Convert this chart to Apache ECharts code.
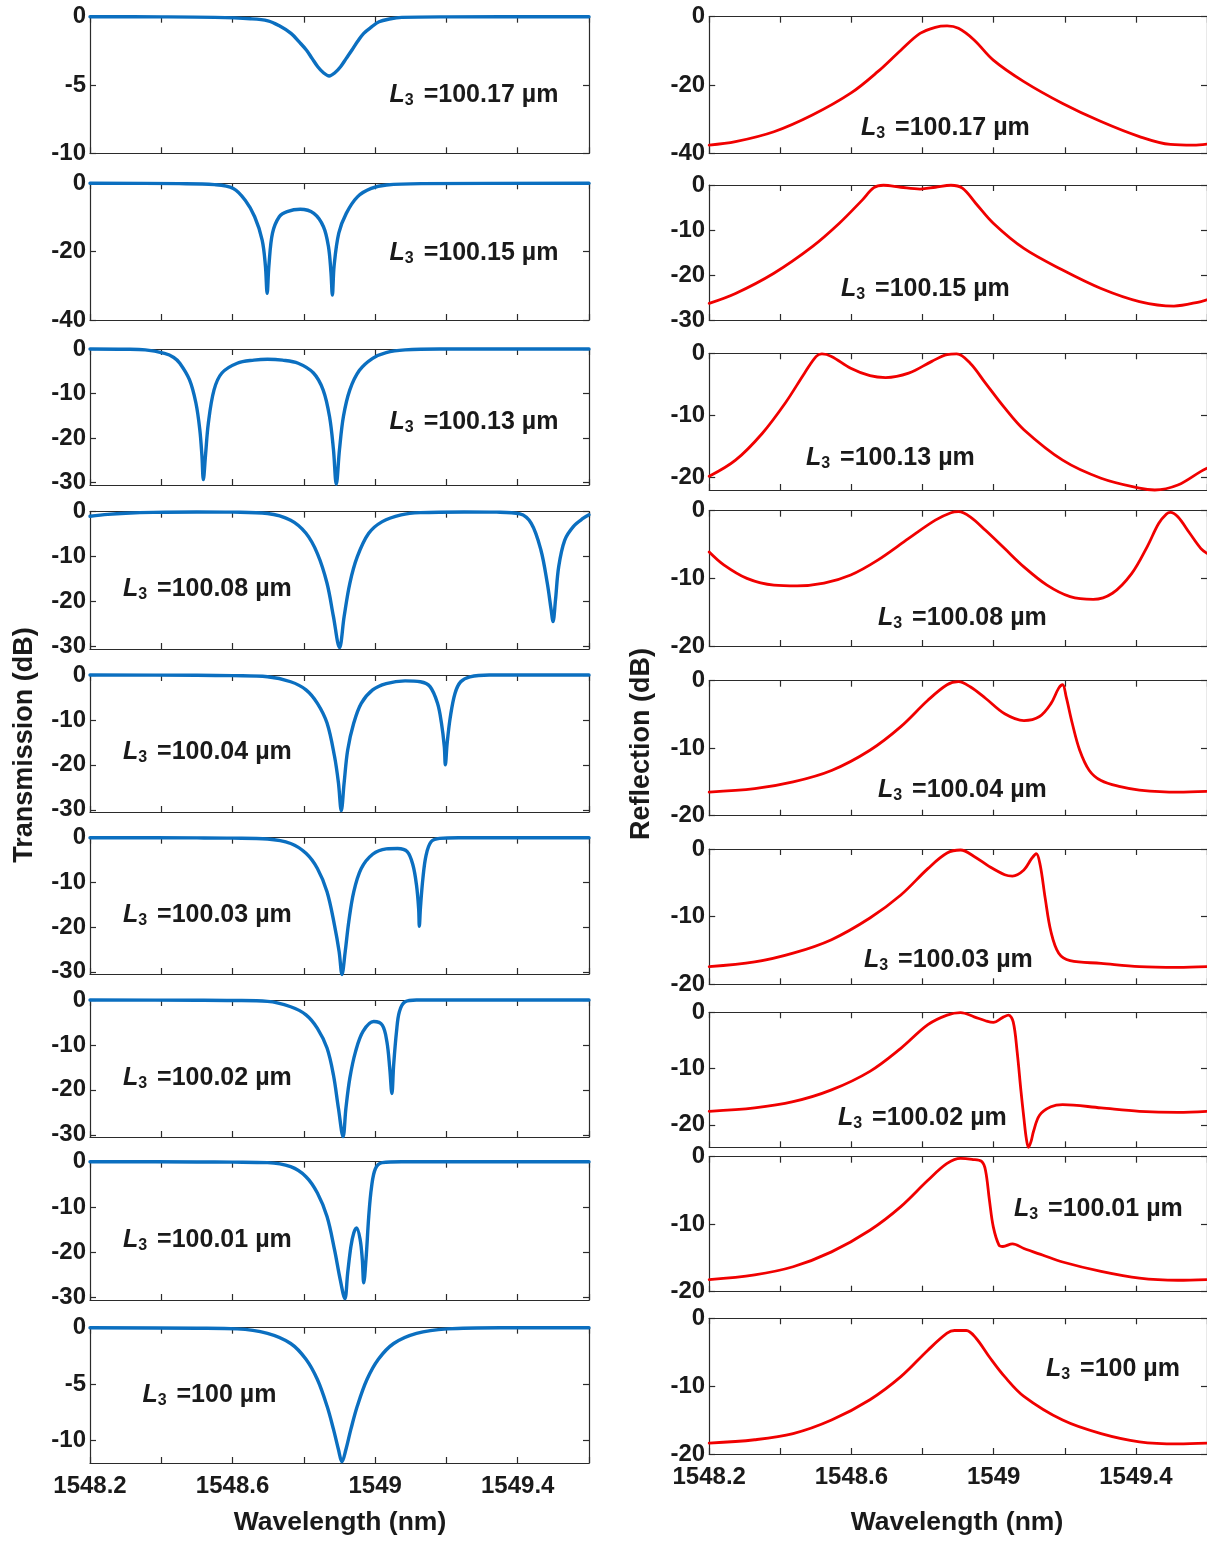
<!DOCTYPE html>
<html><head><meta charset="utf-8">
<script src="https://cdn.jsdelivr.net/npm/echarts@6/dist/echarts.min.js"></script>
<style>html,body{margin:0;padding:0;background:#fff;}#c{width:1207px;height:1543px;}</style>
</head><body><div id="c"></div>
<script>
// ---------------- data ----------------
const wavelengthTicks = [1548.2, 1548.4, 1548.6, 1548.8, 1549.0, 1549.2, 1549.4, 1549.6];
const wavelengthLabels = [1548.2, 1548.6, 1549.0, 1549.4];
const lengthLabels = ['100.17', '100.15', '100.13', '100.08', '100.04', '100.03', '100.02', '100.01', '100'];

const transmissionTicks = [[0,-5,-10],[0,-20,-40],[0,-10,-20,-30],[0,-10,-20,-30],[0,-10,-20,-30],[0,-10,-20,-30],[0,-10,-20,-30],[0,-10,-20,-30],[0,-5,-10]];
const transmissionMin = [-10, -40, -30.6, -30.5, -30.5, -30.5, -30.5, -30.5, -12];
const reflectionTicks = [[0,-20,-40],[0,-10,-20,-30],[0,-10,-20],[0,-10,-20],[0,-10,-20],[0,-10,-20],[0,-10,-20],[0,-10,-20],[0,-10,-20]];
const reflectionMin = [-40, -30, -22, -20, -20, -20, -24, -20, -20];

// Transmission (dB) vs wavelength (nm)
const T_100_17 = [[1548.2,0],[1548.4,-0.01],[1548.55,-0.05],[1548.65,-0.15],[1548.699,-0.3],[1548.73,-0.65],[1548.764,-1.22],[1548.787,-1.85],[1548.807,-2.44],[1548.823,-3.05],[1548.839,-3.66],[1548.855,-4.1],[1548.871,-4.34],[1548.887,-4.1],[1548.903,-3.66],[1548.919,-3.05],[1548.935,-2.44],[1548.951,-1.8],[1548.968,-1.22],[1548.99,-0.75],[1549.011,-0.37],[1549.04,-0.17],[1549.075,-0.05],[1549.2,-0.01],[1549.6,0]];
const T_100_15 = [[1548.2,0],[1548.45,-0.1],[1548.549,-0.4],[1548.602,-1.5],[1548.635,-4.9],[1548.662,-9.8],[1548.683,-16.6],[1548.692,-24],[1548.697,-32.2],[1548.702,-24],[1548.712,-14.6],[1548.731,-9.8],[1548.753,-8.3],[1548.79,-7.6],[1548.828,-8.8],[1548.855,-12.7],[1548.869,-18.5],[1548.876,-26],[1548.88,-32.7],[1548.885,-24],[1548.898,-14.6],[1548.919,-8.8],[1548.951,-3.9],[1548.989,-1.5],[1549.032,-0.5],[1549.129,-0.1],[1549.6,0]];
const T_100_13 = [[1548.2,0],[1548.3,-0.05],[1548.355,-0.2],[1548.409,-1.0],[1548.435,-1.9],[1548.452,-3.2],[1548.479,-6.9],[1548.497,-12.1],[1548.508,-18.1],[1548.514,-24],[1548.518,-29.4],[1548.524,-24],[1548.532,-16.7],[1548.548,-9.2],[1548.57,-5.4],[1548.613,-3.2],[1548.66,-2.5],[1548.698,-2.3],[1548.74,-2.5],[1548.784,-3.2],[1548.827,-5.4],[1548.854,-9.2],[1548.872,-15.2],[1548.883,-22.6],[1548.891,-30.4],[1548.9,-22.6],[1548.911,-15.2],[1548.929,-9.2],[1548.956,-4.8],[1548.993,-2.1],[1549.031,-0.8],[1549.084,-0.2],[1549.181,0],[1549.6,0]];
const T_100_08 = [[1548.2,-1.0],[1548.25,-0.6],[1548.3,-0.35],[1548.377,-0.15],[1548.5,-0.05],[1548.6,-0.1],[1548.698,-0.4],[1548.763,-1.9],[1548.806,-4.8],[1548.838,-9.3],[1548.865,-15.9],[1548.883,-23.3],[1548.9,-30.2],[1548.913,-23.3],[1548.929,-15.9],[1548.95,-10],[1548.982,-4.8],[1549.02,-2.2],[1549.073,-0.7],[1549.127,-0.2],[1549.25,-0.05],[1549.341,-0.1],[1549.406,-0.5],[1549.438,-2.6],[1549.465,-8.5],[1549.483,-15.9],[1549.494,-21.9],[1549.499,-24.4],[1549.506,-19.6],[1549.515,-12.2],[1549.532,-6.3],[1549.556,-3.3],[1549.583,-1.5],[1549.6,-0.7]];
const T_100_04 = [[1548.2,0],[1548.5,-0.05],[1548.6,-0.15],[1548.698,-0.4],[1548.763,-1.5],[1548.806,-3.3],[1548.838,-6.3],[1548.865,-10.7],[1548.886,-18.1],[1548.897,-24],[1548.905,-30.2],[1548.913,-24],[1548.923,-16.7],[1548.94,-10.7],[1548.961,-6.3],[1548.993,-3.3],[1549.031,-1.9],[1549.084,-1.3],[1549.127,-1.5],[1549.154,-2.6],[1549.175,-6.3],[1549.186,-10.7],[1549.194,-15.9],[1549.197,-20],[1549.202,-15.2],[1549.211,-9.3],[1549.224,-4.1],[1549.24,-1.5],[1549.266,-0.4],[1549.32,0],[1549.6,0]];
const T_100_03 = [[1548.2,0],[1548.5,-0.05],[1548.6,-0.1],[1548.698,-0.3],[1548.763,-1.3],[1548.806,-3.5],[1548.838,-6.9],[1548.865,-12.1],[1548.886,-19.6],[1548.899,-25.5],[1548.907,-30.6],[1548.916,-25.5],[1548.926,-18.8],[1548.94,-12.1],[1548.961,-6.9],[1548.993,-3.7],[1549.031,-2.5],[1549.063,-2.4],[1549.09,-3.1],[1549.106,-6.1],[1549.116,-10.6],[1549.122,-15.8],[1549.124,-19.8],[1549.127,-15.8],[1549.134,-9.1],[1549.143,-3.9],[1549.157,-0.9],[1549.181,-0.15],[1549.234,0],[1549.6,0]];
const T_100_02 = [[1548.2,0],[1548.5,-0.05],[1548.6,-0.1],[1548.698,-0.3],[1548.763,-1.5],[1548.806,-3.3],[1548.838,-6.3],[1548.865,-10.7],[1548.883,-16.7],[1548.897,-24.1],[1548.91,-30.4],[1548.918,-24.1],[1548.929,-17.4],[1548.945,-11.5],[1548.966,-7.0],[1548.996,-4.8],[1549.02,-5.6],[1549.033,-9.3],[1549.041,-15.2],[1549.047,-20.8],[1549.052,-14.4],[1549.06,-7.0],[1549.068,-2.6],[1549.084,-0.4],[1549.116,0],[1549.6,0]];
const T_100_01 = [[1548.2,0],[1548.5,-0.05],[1548.6,-0.1],[1548.698,-0.2],[1548.763,-1.1],[1548.806,-3.3],[1548.838,-6.9],[1548.865,-12.1],[1548.886,-19.4],[1548.902,-26],[1548.915,-30.2],[1548.923,-24.5],[1548.932,-18.7],[1548.94,-15.7],[1548.948,-14.6],[1548.958,-17.2],[1548.964,-21.6],[1548.968,-26.7],[1548.975,-20.8],[1548.982,-12.1],[1548.99,-5.5],[1549.001,-1.5],[1549.02,-0.2],[1549.074,0],[1549.6,0]];
const T_100_00 = [[1548.2,0],[1548.5,-0.05],[1548.613,-0.1],[1548.698,-0.5],[1548.763,-1.4],[1548.806,-2.8],[1548.838,-4.6],[1548.865,-6.95],[1548.883,-9.0],[1548.897,-10.8],[1548.907,-11.9],[1548.918,-10.8],[1548.932,-9.0],[1548.95,-6.95],[1548.977,-4.6],[1549.009,-2.8],[1549.052,-1.4],[1549.116,-0.5],[1549.202,-0.1],[1549.35,0],[1549.6,0]];

// Reflection (dB) vs wavelength (nm)
const R_100_17 = [[1548.2,-37.6],[1548.274,-36.6],[1548.382,-33.7],[1548.49,-28.8],[1548.598,-22.4],[1548.674,-16.1],[1548.739,-9.8],[1548.793,-4.9],[1548.836,-3.1],[1548.869,-2.7],[1548.901,-3.4],[1548.945,-6.8],[1548.999,-12.7],[1549.085,-19.0],[1549.194,-25.4],[1549.302,-30.7],[1549.41,-35.1],[1549.497,-37.4],[1549.562,-37.6],[1549.6,-37.3]];
const R_100_15 = [[1548.2,-26.3],[1548.274,-24.1],[1548.382,-19.6],[1548.49,-13.7],[1548.566,-8.5],[1548.631,-3.3],[1548.663,-0.6],[1548.69,-0.05],[1548.739,-0.5],[1548.793,-0.9],[1548.836,-0.5],[1548.88,-0.05],[1548.912,-0.7],[1548.95,-4.1],[1548.999,-8.5],[1549.085,-14.1],[1549.194,-18.9],[1549.302,-23.0],[1549.41,-25.9],[1549.507,-26.9],[1549.583,-25.9],[1549.6,-25.5]];
const R_100_13 = [[1548.2,-19.8],[1548.274,-17.2],[1548.349,-12.9],[1548.414,-8.0],[1548.468,-3.2],[1548.501,-0.5],[1548.517,-0.1],[1548.544,-0.5],[1548.598,-2.4],[1548.652,-3.6],[1548.696,-3.9],[1548.761,-3.2],[1548.826,-1.3],[1548.869,-0.2],[1548.896,-0.1],[1548.934,-1.6],[1548.977,-4.8],[1549.031,-8.8],[1549.085,-12.3],[1549.194,-17.2],[1549.302,-20.1],[1549.41,-21.7],[1549.453,-22.0],[1549.518,-21.2],[1549.583,-19.0],[1549.6,-18.5]];
const R_100_08 = [[1548.2,-6.1],[1548.241,-8.0],[1548.306,-10.0],[1548.382,-11.0],[1548.447,-11.1],[1548.523,-10.7],[1548.598,-9.5],[1548.674,-7.3],[1548.761,-4.1],[1548.836,-1.4],[1548.88,-0.3],[1548.901,-0.15],[1548.934,-0.9],[1548.977,-2.9],[1549.031,-5.6],[1549.085,-8.3],[1549.15,-11.0],[1549.215,-12.7],[1549.28,-13.1],[1549.334,-12.2],[1549.388,-9.3],[1549.432,-5.3],[1549.464,-1.9],[1549.486,-0.5],[1549.497,-0.25],[1549.518,-0.9],[1549.551,-3.3],[1549.583,-5.6],[1549.6,-6.3]];
const R_100_04 = [[1548.2,-16.5],[1548.328,-16.0],[1548.436,-15.0],[1548.544,-13.3],[1548.652,-10.3],[1548.739,-6.8],[1548.815,-2.9],[1548.869,-0.6],[1548.901,-0.15],[1548.934,-0.9],[1548.977,-2.6],[1549.031,-4.9],[1549.085,-5.9],[1549.129,-5.3],[1549.161,-3.4],[1549.183,-1.1],[1549.194,-0.6],[1549.204,-2.4],[1549.221,-6.3],[1549.242,-10.3],[1549.269,-13.3],[1549.302,-14.8],[1549.356,-15.7],[1549.41,-16.2],[1549.518,-16.5],[1549.6,-16.4]];
const R_100_03 = [[1548.2,-17.4],[1548.328,-16.7],[1548.436,-15.4],[1548.544,-13.4],[1548.652,-10.2],[1548.739,-6.8],[1548.815,-2.9],[1548.869,-0.6],[1548.907,-0.15],[1548.945,-1.1],[1548.988,-2.6],[1549.031,-3.8],[1549.053,-4.0],[1549.085,-3.1],[1549.107,-1.4],[1549.12,-0.7],[1549.131,-2.4],[1549.145,-7.3],[1549.161,-12.2],[1549.183,-15.4],[1549.215,-16.5],[1549.302,-16.9],[1549.41,-17.4],[1549.518,-17.5],[1549.6,-17.4]];
const R_100_02 = [[1548.2,-17.6],[1548.328,-17.0],[1548.436,-15.9],[1548.544,-13.8],[1548.652,-10.5],[1548.739,-6.4],[1548.815,-2.2],[1548.869,-0.5],[1548.907,-0.05],[1548.945,-0.8],[1548.977,-1.5],[1548.999,-1.8],[1549.026,-0.9],[1549.042,-0.5],[1549.055,-1.7],[1549.066,-7.0],[1549.077,-14.1],[1549.085,-18.8],[1549.092,-22.5],[1549.098,-24],[1549.105,-23],[1549.112,-21.2],[1549.129,-18.3],[1549.161,-16.8],[1549.194,-16.4],[1549.302,-17.0],[1549.41,-17.6],[1549.518,-17.8],[1549.6,-17.6]];
const R_100_01 = [[1548.2,-18.2],[1548.328,-17.5],[1548.436,-16.3],[1548.544,-14.1],[1548.652,-10.9],[1548.739,-7.4],[1548.815,-3.5],[1548.869,-1.0],[1548.907,-0.25],[1548.939,-0.4],[1548.966,-0.7],[1548.977,-2.0],[1548.988,-6.4],[1548.999,-10.4],[1549.015,-13.1],[1549.026,-13.3],[1549.053,-12.9],[1549.085,-13.6],[1549.139,-14.6],[1549.194,-15.6],[1549.302,-17.0],[1549.41,-18.0],[1549.518,-18.3],[1549.6,-18.2]];
const R_100_00 = [[1548.2,-18.4],[1548.328,-17.9],[1548.436,-17.0],[1548.544,-15.0],[1548.652,-12.0],[1548.739,-8.6],[1548.815,-4.7],[1548.869,-2.2],[1548.89,-1.8],[1548.923,-1.8],[1548.95,-2.9],[1548.988,-5.7],[1549.031,-8.6],[1549.085,-11.5],[1549.194,-15.0],[1549.302,-17.0],[1549.41,-18.2],[1549.518,-18.5],[1549.6,-18.4]];

const transmission = [T_100_17, T_100_15, T_100_13, T_100_08, T_100_04, T_100_03, T_100_02, T_100_01, T_100_00];
const reflection = [R_100_17, R_100_15, R_100_13, R_100_08, R_100_04, R_100_03, R_100_02, R_100_01, R_100_00];

// ---------------- layout ----------------
const FONT = '"Liberation Sans", Arial, Helvetica, sans-serif';
const TEXT = '#1a1a1a';
const FRAME = '#2b2b2b';
const leftCol = { x: 90, w: 499,
  tops: [16.7, 183.3, 349, 511.7, 675, 837.7, 1000, 1161.7, 1327.7],
  bottoms: [153.3, 320, 485, 649, 812, 974, 1137, 1300, 1463],
  notes: [[389.6,95],[389.6,253],[389.6,422],[123,589.5],[123,752],[123,915.5],[123,1077.7],[123,1239.7],[142.4,1395]] };
const rightCol = { x: 709.2, w: 500,
  tops: [16.7, 185, 353.3, 510.7, 680.7, 849, 1012.3, 1156.7, 1318.3],
  bottoms: [153.3, 320, 490, 646, 815.7, 984.3, 1147.3, 1291.7, 1454],
  notes: [[861,127.7],[841,289],[806,457.7],[878,617.7],[878,789.7],[864,959.8],[838,1117.7],[1014,1209],[1046,1369.3]] };

const fmt = v => String(Math.round(v * 10) / 10);
const grids = [], xAxes = [], yAxes = [], series = [], graphics = [];

function addPanel(col, i, data, tickVals, ymin, color, width, isBottom) {
  const g = grids.length;
  grids.push({ left: col.x, width: col.w, top: col.tops[i], height: col.bottoms[i] - col.tops[i], containLabel: false });
  const axLine = { show: true, onZero: false, lineStyle: { color: FRAME, width: 1.2 } };
  const xTick = { show: true, inside: true, length: 6, customValues: wavelengthTicks, lineStyle: { color: FRAME, width: 1.2 } };
  xAxes.push({ type: 'value', gridIndex: g, position: 'bottom', min: 1548.2, max: 1549.6,
    axisLine: axLine, axisTick: xTick, splitLine: { show: false },
    axisLabel: { show: isBottom, customValues: wavelengthLabels, formatter: fmt, margin: 11,
      fontFamily: FONT, fontWeight: 'bold', fontSize: 24, color: TEXT } });
  xAxes.push({ type: 'value', gridIndex: g, position: 'top', min: 1548.2, max: 1549.6,
    axisLine: axLine, axisTick: xTick, splitLine: { show: false }, axisLabel: { show: false } });
  const yTick = { show: true, inside: true, length: 6, customValues: tickVals, lineStyle: { color: FRAME, width: 1.2 } };
  yAxes.push({ type: 'value', gridIndex: g, position: 'left', min: ymin, max: 0,
    axisLine: axLine, axisTick: yTick, splitLine: { show: false },
    axisLabel: { show: true, customValues: tickVals, formatter: fmt, margin: 4,
      fontFamily: FONT, fontWeight: 'bold', fontSize: 24, color: TEXT } });
  yAxes.push({ type: 'value', gridIndex: g, position: 'right', min: ymin, max: 0,
    axisLine: axLine, axisTick: yTick, splitLine: { show: false }, axisLabel: { show: false } });
  series.push({ type: 'line', xAxisIndex: 2 * g, yAxisIndex: 2 * g, data: data,
    showSymbol: false, symbol: 'none', smooth: 0.35, clip: false,
    lineStyle: { color: color, width: width, join: 'round', cap: 'round' }, z: 5, silent: true });
  const n = col.notes[i];
  graphics.push({ type: 'text', x: n[0], y: n[1], z: 10,
    style: { text: '{i|L}{s|3} =' + lengthLabels[i] + ' µm',
      font: 'bold 25px ' + FONT, fill: TEXT, lineHeight: 27,
      align: 'left', verticalAlign: 'middle', textAlign: 'left', textVerticalAlign: 'middle',
      rich: {
        i: { fontStyle: 'italic', fontWeight: 'bold', fontSize: 25, fontFamily: FONT, lineHeight: 27, fill: TEXT },
        s: { fontWeight: 'bold', fontSize: 16, fontFamily: FONT, lineHeight: 14, verticalAlign: 'bottom', fill: TEXT, padding: [0, 3, 0, 0] }
      } } });
}

for (let i = 0; i < 9; i++) {
  addPanel(leftCol, i, transmission[i], transmissionTicks[i], transmissionMin[i], '#0b6fc0', 3.4, i === 8);
  addPanel(rightCol, i, reflection[i], reflectionTicks[i], reflectionMin[i], '#f00000', 2.8, i === 8);
}

function titleText(text, x, y, rot, size) {
  return { type: 'text', x: x, y: y, rotation: rot, z: 10,
    style: { text: text, font: 'bold ' + size + 'px ' + FONT, fill: TEXT,
      align: 'center', verticalAlign: 'middle', textAlign: 'center', textVerticalAlign: 'middle' } };
}
graphics.push(titleText('Transmission (dB)', 25, 745, Math.PI / 2, 27));
graphics.push(titleText('Reflection (dB)', 642, 744, Math.PI / 2, 27));
graphics.push(titleText('Wavelength (nm)', 340, 1523, 0, 26.5));
graphics.push(titleText('Wavelength (nm)', 957, 1523, 0, 26.5));

const chart = echarts.init(document.getElementById('c'), null, { renderer: 'canvas' });
chart.setOption({
  animation: false,
  backgroundColor: '#ffffff',
  grid: grids, xAxis: xAxes, yAxis: yAxes, series: series,
  graphic: { elements: graphics }
});
</script></body></html>
